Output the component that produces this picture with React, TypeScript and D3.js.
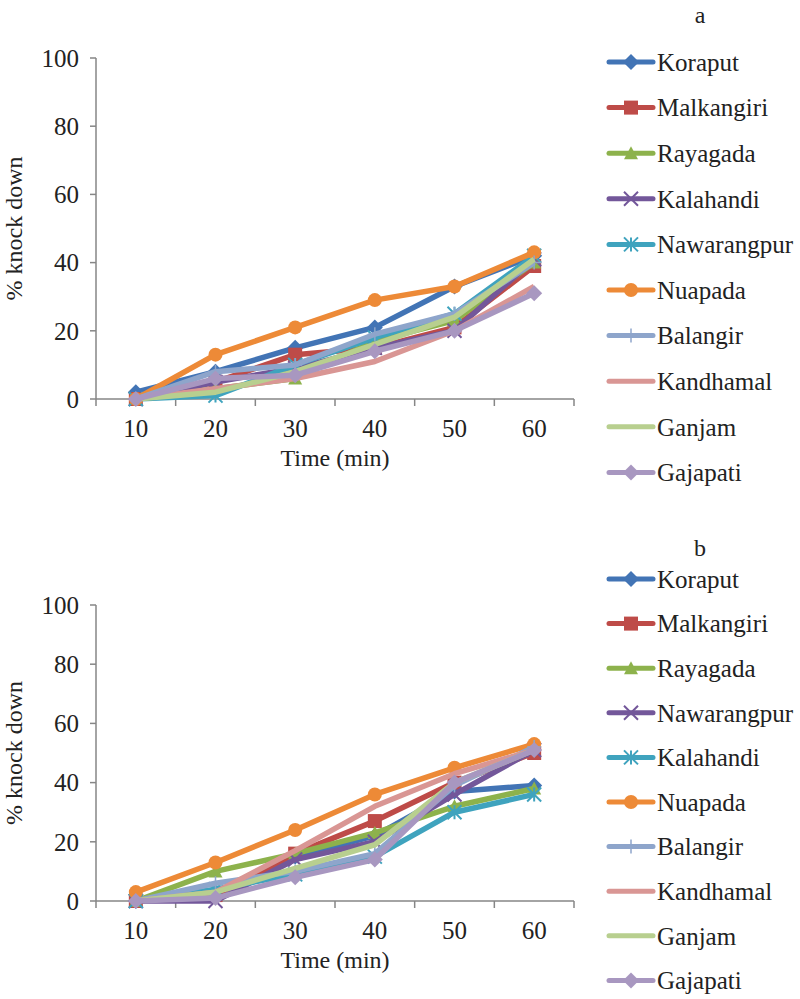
import React from "react";
import * as d3 from "d3";

const times = ["10", "20", "30", "40", "50", "60"];
const yTicks = [0, 20, 40, 60, 80, 100];

const namesA = ["Koraput", "Malkangiri", "Rayagada", "Kalahandi", "Nawarangpur", "Nuapada", "Balangir", "Kandhamal", "Ganjam", "Gajapati"];
const namesB = ["Koraput", "Malkangiri", "Rayagada", "Nawarangpur", "Kalahandi", "Nuapada", "Balangir", "Kandhamal", "Ganjam", "Gajapati"];

const colors = ["#4274B5", "#BE4B48", "#8DB24C", "#73579A", "#3FA3BE", "#ED8A37", "#8EA5CB", "#D99694", "#B8CF8F", "#A897C0"];
const markers = ["diamond", "square", "triangle", "x", "star", "circle", "plus", "none", "none", "diamond"];

const valuesA: number[][] = [
  [2, 8, 15, 21, 33, 42],
  [0, 5, 13, 15, 21, 39],
  [0, 3, 6, 17, 23, 40],
  [0, 5, 9, 15, 20, 41],
  [0, 1, 10, 18, 25, 42],
  [0, 13, 21, 29, 33, 43],
  [0, 8, 10, 19, 25, 40],
  [0, 3, 6, 11, 20, 33],
  [0, 2, 8, 16, 24, 41],
  [0, 6, 7, 14, 20, 31],
];

const valuesB: number[][] = [
  [0, 3, 15, 22, 37, 39],
  [0, 2, 16, 27, 40, 50],
  [0, 10, 16, 23, 32, 38],
  [0, 0, 14, 20, 36, 51],
  [0, 4, 9, 15, 30, 36],
  [3, 13, 24, 36, 45, 53],
  [0, 6, 10, 16, 39, 52],
  [0, 3, 17, 32, 43, 51],
  [0, 3, 11, 19, 40, 51],
  [0, 1, 8, 14, 40, 51],
];

const FONT = "'Liberation Serif', 'Times New Roman', serif";

function Marker({ type, x, y, color }: { type: string; x: number; y: number; color: string }) {
  const s = 7;
  if (type === "none") return null;
  if (type === "circle") return <circle cx={x} cy={y} r={s} fill={color} />;
  if (type === "diamond")
    return <path d={`M${x},${y - s - 1}L${x + s + 1},${y}L${x},${y + s + 1}L${x - s - 1},${y}Z`} fill={color} />;
  if (type === "square") return <rect x={x - s} y={y - s} width={2 * s} height={2 * s} fill={color} />;
  if (type === "triangle")
    return <path d={`M${x},${y - s}L${x + s},${y + s - 1}L${x - s},${y + s - 1}Z`} fill={color} />;
  if (type === "x")
    return (
      <path d={`M${x - s},${y - s}L${x + s},${y + s}M${x - s},${y + s}L${x + s},${y - s}`} stroke={color} strokeWidth={2} />
    );
  if (type === "star")
    return (
      <path
        d={`M${x - s},${y - s}L${x + s},${y + s}M${x - s},${y + s}L${x + s},${y - s}M${x},${y - s}L${x},${y + s}`}
        stroke={color}
        strokeWidth={2}
      />
    );
  if (type === "plus")
    return <path d={`M${x},${y - s}L${x},${y + s}M${x - s},${y}L${x + s},${y}`} stroke={color} strokeWidth={1.5} />;
  return null;
}

function Panel({
  names,
  values,
  top,
  bottom,
  label,
  labelY,
  legendY0,
  legendStep,
}: {
  names: string[];
  values: number[][];
  top: number;
  bottom: number;
  label: string;
  labelY: number;
  legendY0: number;
  legendStep: number;
}) {
  const left = 96;
  const right = 574;
  const x = d3.scalePoint<string>().domain(times).range([left, right]).padding(0.5);
  const band = (right - left) / times.length;
  const y = d3.scaleLinear().domain([0, 100]).range([bottom, top]);
  const line = d3
    .line<number>()
    .x((_, i) => x(times[i]) as number)
    .y((d) => y(d));
  const axisColor = "#868686";
  return (
    <g>
      <line x1={left} x2={left} y1={top} y2={bottom} stroke={axisColor} strokeWidth={1.5} />
      {yTicks.map((t) => (
        <g key={t}>
          <line x1={left - 6} x2={left} y1={y(t)} y2={y(t)} stroke={axisColor} strokeWidth={1.5} />
          <text x={79} y={y(t)} dy="0.35em" textAnchor="end" fontSize={25} fontFamily={FONT} fill="#222">
            {t}
          </text>
        </g>
      ))}
      <line x1={left} x2={right} y1={bottom} y2={bottom} stroke={axisColor} strokeWidth={1.5} />
      {d3.range(times.length + 1).map((i) => (
        <line key={i} x1={left + i * band} x2={left + i * band} y1={bottom} y2={bottom + 7} stroke={axisColor} strokeWidth={1.5} />
      ))}
      {times.map((t) => (
        <text key={t} x={x(t)} y={bottom + 38} textAnchor="middle" fontSize={25} fontFamily={FONT} fill="#222">
          {t}
        </text>
      ))}
      <text x={(left + right) / 2} y={bottom + 67} textAnchor="middle" fontSize={24} fontFamily={FONT} fill="#222">
        Time (min)
      </text>
      <text
        transform={`translate(22,${(top + bottom) / 2}) rotate(-90)`}
        textAnchor="middle"
        fontSize={24}
        fontFamily={FONT}
        fill="#222"
      >
        % knock down
      </text>
      {values.map((vals, si) => (
        <g key={si}>
          <path d={line(vals) || ""} fill="none" stroke={colors[si]} strokeWidth={5.5} strokeLinejoin="round" />
          {vals.map((v, i) => (
            <Marker key={i} type={markers[si]} x={x(times[i]) as number} y={y(v)} color={colors[si]} />
          ))}
        </g>
      ))}
      <text x={700} y={labelY} dy="0.35em" textAnchor="middle" fontSize={24} fontFamily={FONT} fill="#222">
        {label}
      </text>
      {names.map((n, i) => {
        const ly = legendY0 + i * legendStep;
        return (
          <g key={n}>
            <line x1={609} x2={653} y1={ly} y2={ly} stroke={colors[i]} strokeWidth={5} strokeLinecap="round" />
            <Marker type={markers[i]} x={631} y={ly} color={colors[i]} />
            <text x={657} y={ly} dy="0.35em" fontSize={25} fontFamily={FONT} fill="#222">
              {n}
            </text>
          </g>
        );
      })}
    </g>
  );
}

export default function App() {
  return (
    <svg width={800} height={999} style={{ position: "absolute", left: 0, top: 0, background: "#fff" }}>
      <rect width={800} height={999} fill="#fff" />
      <Panel names={namesA} values={valuesA} top={58} bottom={399} label="a" labelY={15} legendY0={62} legendStep={45.6} />
      <Panel names={namesB} values={valuesB} top={605} bottom={901} label="b" labelY={548} legendY0={579} legendStep={44.6} />
    </svg>
  );
}
